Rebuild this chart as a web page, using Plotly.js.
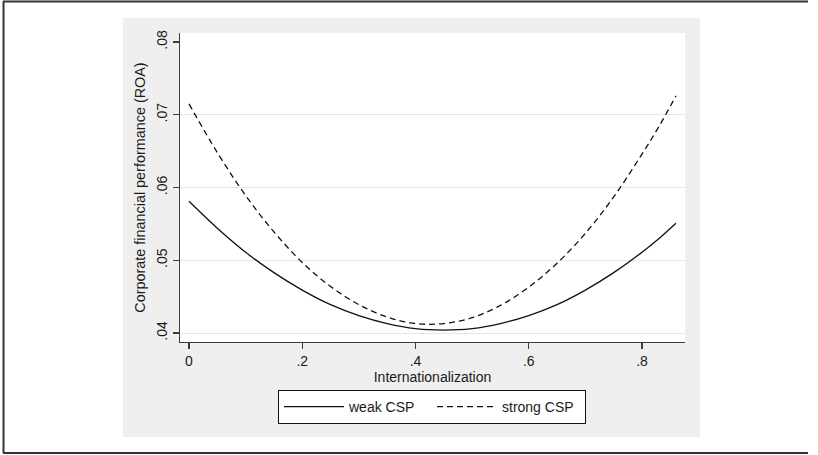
<!DOCTYPE html>
<html>
<head>
<meta charset="utf-8">
<script src="https://cdn.plot.ly/plotly-3.0.1.min.js"></script>
<style>
  html, body { margin: 0; padding: 0; background: #ffffff; }
  #chart { width: 818px; height: 455px; }
</style>
</head>
<body>
<div id="chart"></div>
<script>
// ---- data ----
const internationalization = [0, 0.05, 0.10, 0.15, 0.20, 0.25, 0.30, 0.35, 0.40, 0.45, 0.50, 0.55, 0.60, 0.65, 0.70, 0.75, 0.80, 0.83, 0.86];
const weakCSP   = [0.0581, 0.0544, 0.0511, 0.0483, 0.0459, 0.0439, 0.0424, 0.0413, 0.0406, 0.0404, 0.0406, 0.0413, 0.0424, 0.0439, 0.0459, 0.0483, 0.0511, 0.0530, 0.0551];
const strongCSP = [0.0715, 0.0648, 0.0589, 0.0539, 0.0497, 0.0464, 0.0439, 0.0422, 0.0413, 0.0413, 0.0421, 0.0438, 0.0463, 0.0496, 0.0537, 0.0587, 0.0646, 0.0684, 0.0726];
const seriesNames = ["weak CSP", "strong CSP"];
const xTickVals = [0, 0.2, 0.4, 0.6, 0.8];
const xTickText = ["0", ".2", ".4", ".6", ".8"];
const yTickVals = [0.04, 0.05, 0.06, 0.07, 0.08];
const yTickText = [".04", ".05", ".06", ".07", ".08"];
const yGridVals = [0.04, 0.05, 0.06, 0.07];
const xTitle = "Internationalization";
const yTitle = "Corporate financial performance (ROA)";

const FONT = "'Liberation Sans', Arial, Helvetica, sans-serif";

const traces = [
  {
    x: internationalization, y: weakCSP, name: seriesNames[0],
    type: "scatter", mode: "lines",
    line: { color: "#111111", width: 1.3, shape: "spline" }
  },
  {
    x: internationalization, y: strongCSP, name: seriesNames[1],
    type: "scatter", mode: "lines",
    line: { color: "#111111", width: 1.3, dash: "6px,4px", shape: "spline" }
  },
  {
    // invisible helper trace on overlay axis that carries the gridlines
    x: [internationalization[0]], y: [weakCSP[0]], yaxis: "y2",
    type: "scatter", mode: "lines", showlegend: false, hoverinfo: "skip",
    line: { width: 0 }
  }
];

// paper coords helpers (plot area: x 180..685, y 33..342)
function px(xp) { return (xp - 180) / 505; }
function py(yp) { return (342 - yp) / 309; }

const layout = {
  width: 818, height: 455,
  margin: { l: 180, r: 133, t: 33, b: 113 },
  paper_bgcolor: "#ffffff",
  plot_bgcolor: "#ffffff",
  font: { family: FONT, size: 14, color: "#1a1a1a" },
  showlegend: true,
  xaxis: {
    range: [-0.01589, 0.87594],
    tickvals: xTickVals, ticktext: xTickText,
    ticks: "outside", ticklen: 6, tickwidth: 1.2, tickcolor: "#3c3c3c",
    showline: true, linecolor: "#3c3c3c", linewidth: 1.2,
    showgrid: false, zeroline: false,
    tickfont: { family: FONT, size: 14, color: "#1a1a1a" },
    title: { text: xTitle, font: { family: FONT, size: 14, color: "#1a1a1a" }, standoff: 0 }
  },
  yaxis: {
    range: [0.038763, 0.081237],
    tickvals: yTickVals, ticktext: yTickText,
    tickangle: -90,
    ticks: "outside", ticklen: 6, tickwidth: 1.2, tickcolor: "#3c3c3c",
    showline: true, linecolor: "#3c3c3c", linewidth: 1.2,
    showgrid: false, zeroline: false,
    tickfont: { family: FONT, size: 14, color: "#1a1a1a" },
    title: { text: yTitle, font: { family: FONT, size: 14.4, color: "#1a1a1a" }, standoff: 5 }
  },
  yaxis2: {
    overlaying: "y", matches: "y", side: "left",
    tickvals: yGridVals, showticklabels: false, ticks: "",
    showgrid: true, gridcolor: "#e6e6e6", gridwidth: 1,
    showline: false, zeroline: false
  },
  legend: {
    orientation: "h",
    x: px(278), xanchor: "left",
    y: py(390), yanchor: "top",
    bgcolor: "#ffffff", bordercolor: "#111111", borderwidth: 1,
    itemwidth: 60,
    entrywidth: 78, entrywidthmode: "pixels",
    font: { family: FONT, size: 14, color: "#1a1a1a" }
  },
  shapes: [
    // grey graph region
    { type: "rect", xref: "paper", yref: "paper", layer: "below",
      x0: px(123), x1: px(700), y0: py(437), y1: py(18),
      fillcolor: "#efefef", line: { width: 0 } },
    // white plot region
    { type: "rect", xref: "paper", yref: "paper", layer: "below",
      x0: 0, x1: 1, y0: 0, y1: 1,
      fillcolor: "#ffffff", line: { width: 0 } },
    // outer frame lines
    { type: "line", xref: "paper", yref: "paper",
      x0: px(3), x1: px(808), y0: py(1.5), y1: py(1.5),
      line: { color: "#333333", width: 2 } },
    { type: "line", xref: "paper", yref: "paper",
      x0: px(3), x1: px(808), y0: py(453), y1: py(453),
      line: { color: "#333333", width: 2 } },
    { type: "line", xref: "paper", yref: "paper",
      x0: px(3.5), x1: px(3.5), y0: py(1.5), y1: py(453),
      line: { color: "#333333", width: 2 } }
  ]
};

Plotly.newPlot("chart", traces, layout, { displayModeBar: false, staticPlot: true });
</script>
</body>
</html>
